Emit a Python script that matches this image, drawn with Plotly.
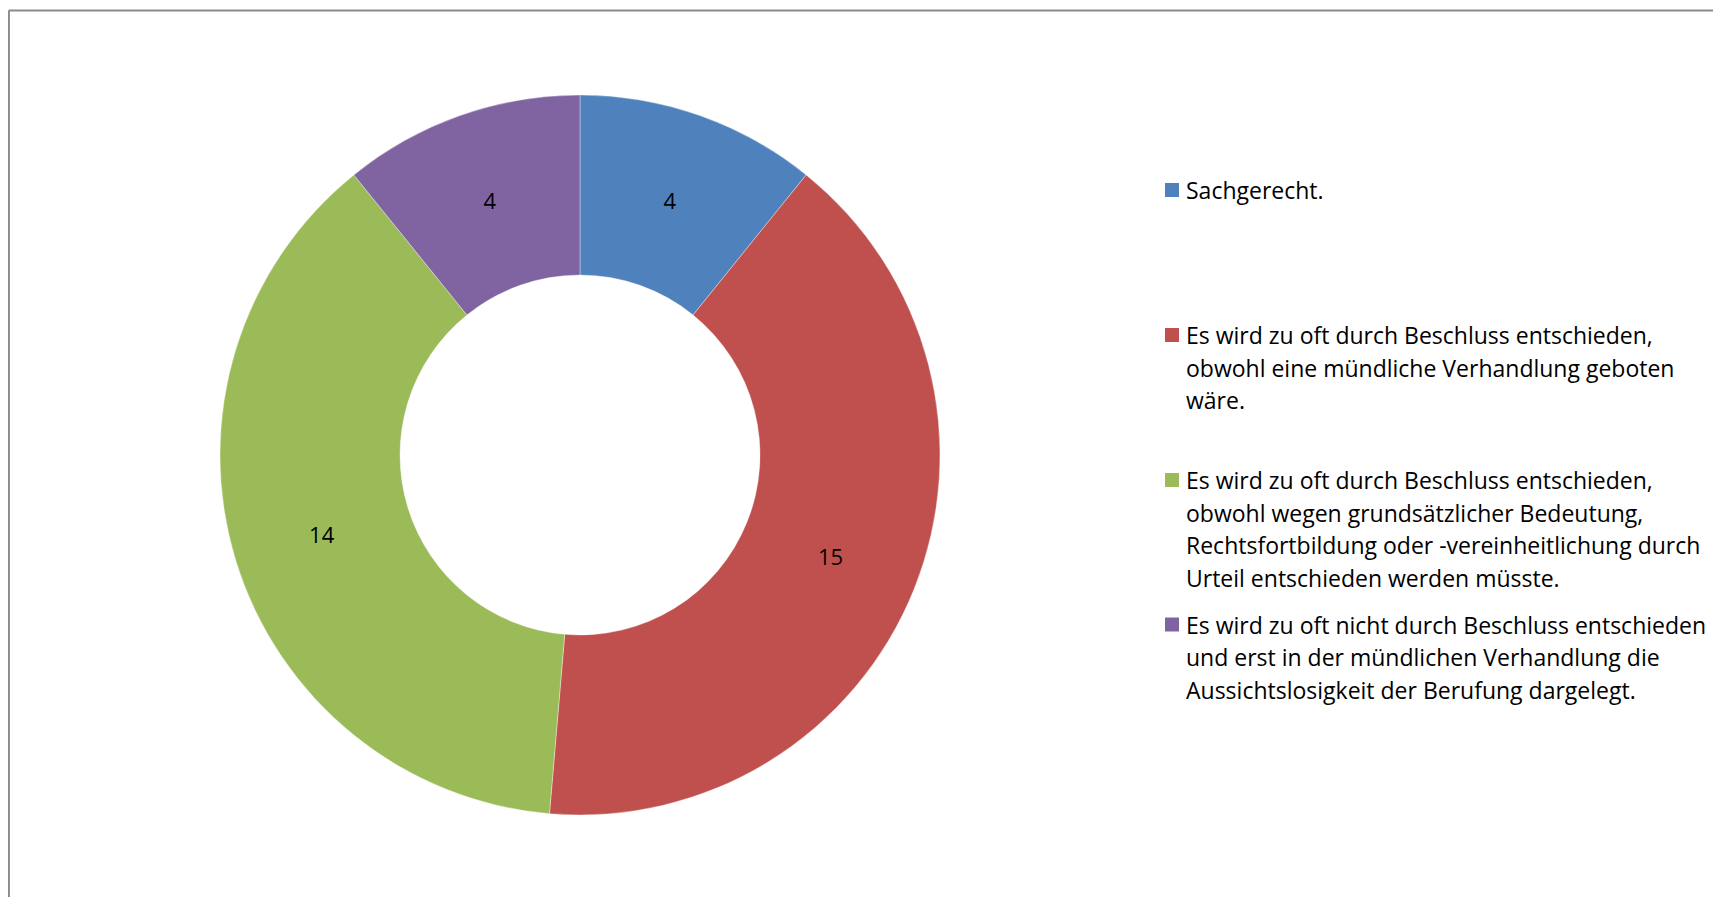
import plotly.graph_objects as go

categories = [
    "Sachgerecht.",
    "Es wird zu oft durch Beschluss entschieden,<br>obwohl eine mündliche Verhandlung geboten<br>wäre.",
    "Es wird zu oft durch Beschluss entschieden,<br>obwohl wegen grundsätzlicher Bedeutung,<br>Rechtsfortbildung oder -vereinheitlichung durch<br>Urteil entschieden werden müsste.",
    "Es wird zu oft nicht durch Beschluss entschieden<br>und erst in der mündlichen Verhandlung die<br>Aussichtslosigkeit der Berufung dargelegt.",
]
values = [4, 15, 14, 4]
colors = ["#4F81BD", "#C0504D", "#9BBB59", "#8064A2"]

OFF = 8  # page body margin
W, H = 1721 - OFF, 897 - OFF
FONT = "Open Sans"

cx, cy, R = 580 - OFF, 455 - OFF, 360

fig = go.Figure()
fig.add_trace(go.Pie(
    labels=[c.replace("<br>", " ") for c in categories],
    values=values,
    hole=0.5,
    sort=False,
    direction="clockwise",
    rotation=0,
    marker=dict(colors=colors, line=dict(color="rgba(255,255,255,0.6)", width=0.6)),
    textinfo="value",
    textposition="inside",
    insidetextorientation="horizontal",
    textfont=dict(family=FONT, size=22, color="black"),
    hoverinfo="skip",
    showlegend=False,
    domain=dict(x=[(cx - R) / W, (cx + R) / W], y=[(H - cy - R) / H, (H - cy + R) / H]),
))

# legend drawn as annotations + squares
first_line_y = [190 - OFF, 335 - OFF, 480 - OFF, 624.5 - OFF]
line_gap = 32.5
sq = 14
sq_x0 = 1165 - OFF
text_x = 1184 - OFF
annotations = []
shapes = []
for cat, col, y0 in zip(categories, colors, first_line_y):
    lines = cat.split("<br>")
    shapes.append(dict(type="rect", xref="paper", yref="paper",
                       x0=sq_x0 / W, x1=(sq_x0 + sq) / W,
                       y0=1 - (y0 + sq / 2) / H, y1=1 - (y0 - sq / 2) / H,
                       fillcolor=col, line=dict(width=0)))
    for i, ln in enumerate(lines):
        yy = y0 + i * line_gap
        annotations.append(dict(text=ln, xref="paper", yref="paper",
                                x=text_x / W, y=1 - yy / H, xanchor="left", yanchor="middle",
                                showarrow=False, align="left",
                                font=dict(family=FONT, size=23, color="black")))

# chart frame (top and left edges visible)
ty = 10.5 - OFF
lx = 8.7 - OFF
shapes.append(dict(type="line", xref="paper", yref="paper",
                   x0=lx / W, x1=1.0, y0=1 - ty / H, y1=1 - ty / H,
                   line=dict(color="#8a8a8a", width=2.2)))
shapes.append(dict(type="line", xref="paper", yref="paper",
                   x0=lx / W, x1=lx / W, y0=1 - ty / H, y1=0,
                   line=dict(color="#8a8a8a", width=2.4)))

fig.update_layout(
    width=W, height=H,
    margin=dict(l=0, r=0, t=0, b=0),
    paper_bgcolor="white",
    plot_bgcolor="white",
    annotations=annotations,
    shapes=shapes,
    font=dict(family=FONT),
)

fig.write_html("out.html", config={"displayModeBar": False})
